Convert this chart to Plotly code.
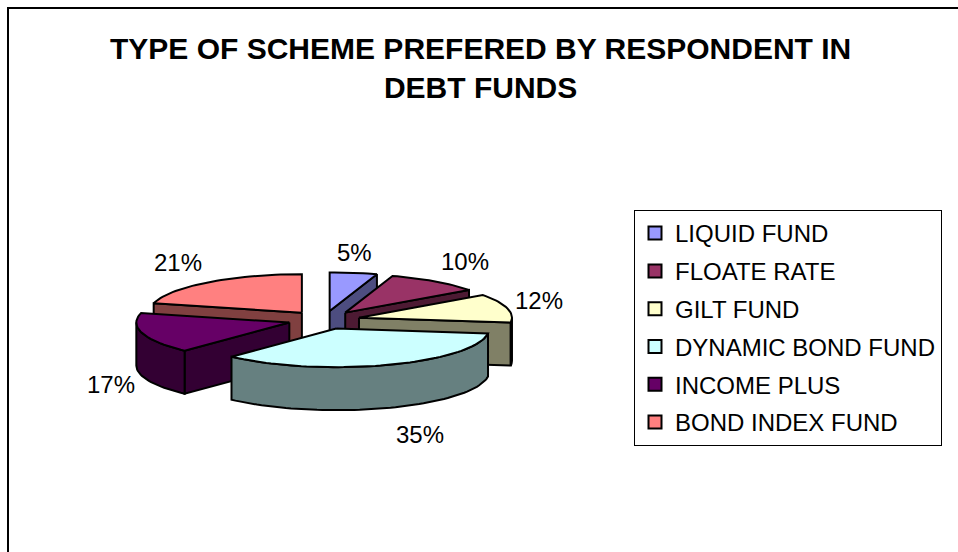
import math
import plotly.graph_objects as go

# Survey shares of debt-fund scheme types (percent of respondents)
schemes = ["LIQUID FUND", "FLOATE RATE", "GILT FUND",
           "DYNAMIC BOND FUND", "INCOME PLUS", "BOND INDEX FUND"]
shares = [5, 10, 12, 35, 17, 21]

top_colors = ["#9999FF", "#993366", "#FFFFCC", "#CCFFFF", "#660066", "#FF8080"]
side_colors = ["#4D4D80", "#4D1A33", "#808066", "#668080", "#330033", "#804040"]

TITLE = "TYPE OF SCHEME PREFERED BY RESPONDENT IN<br>DEBT FUNDS"
FONT = "Arial, 'Liberation Sans', sans-serif"

W, H = 958, 552
# projected pie geometry (pixels)
CX, CY = 324.0, 320.0
RX, RY = 153.0, 38.6
DEPTH = 43.0
EXPLODE = 0.236
LABEL_GX = 6.0
LABEL_GY = {"bottom": 5.0, "middle": 30.0, "top": 12.0}


def proj(cx, cy, theta, z=0.0, r=1.0):
    """Project a point at angle theta (deg, clockwise from 12 o'clock)."""
    t = math.radians(theta)
    return cx + RX * r * math.sin(t), cy - RY * r * math.cos(t) + z


def arc(cx, cy, a0, a1, z=0.0, n=None):
    n = n or max(2, int(abs(a1 - a0) / 2) + 2)
    return [proj(cx, cy, a0 + (a1 - a0) * i / (n - 1), z) for i in range(n)]


total = sum(shares)
slices = []
start = 0.0
for i, v in enumerate(shares):
    span = 360.0 * v / total
    a0, a1 = start, start + span
    mid = (a0 + a1) / 2
    m = math.radians(mid)
    cx = CX + EXPLODE * RX * math.sin(m)
    cy = CY - EXPLODE * RY * math.cos(m)
    slices.append(dict(i=i, a0=a0, a1=a1, mid=mid, cx=cx, cy=cy))
    start = a1

fig = go.Figure()


def poly(pts, fill):
    xs = [p[0] for p in pts] + [pts[0][0]]
    ys = [p[1] for p in pts] + [pts[0][1]]
    fig.add_trace(go.Scatter(
        x=xs, y=ys, mode="lines", fill="toself", fillcolor=fill,
        line=dict(color="black", width=2), hoverinfo="skip",
        showlegend=False))


def wall(s, theta, fill):
    apex_t = (s["cx"], s["cy"])
    rim_t = proj(s["cx"], s["cy"], theta)
    poly([apex_t, rim_t, (rim_t[0], rim_t[1] + DEPTH),
          (apex_t[0], apex_t[1] + DEPTH)], fill)


# paint slices from back to front
for s in sorted(slices, key=lambda d: -math.cos(math.radians(d["mid"]))):
    i = s["i"]
    side = side_colors[i]
    # radial cut faces that face the viewer
    if math.sin(math.radians(s["a0"])) < -1e-6:
        wall(s, s["a0"], side)
    if math.sin(math.radians(s["a1"])) > 1e-6:
        wall(s, s["a1"], side)
    # outer curved wall on the front half
    lo, hi = max(s["a0"], 90.0), min(s["a1"], 270.0)
    if hi > lo:
        top_arc = arc(s["cx"], s["cy"], lo, hi)
        bot_arc = arc(s["cx"], s["cy"], hi, lo, z=DEPTH)
        poly(top_arc + bot_arc, side)
    # top face
    poly([(s["cx"], s["cy"])] + arc(s["cx"], s["cy"], s["a0"], s["a1"]),
         top_colors[i])

# percentage labels outside each slice
for s in slices:
    m = math.radians(s["mid"])
    sn, cs = math.sin(m), math.cos(m)
    px, py = proj(s["cx"], s["cy"], s["mid"], z=DEPTH if cs < 0 else 0.0)
    xa = "left" if sn > 0.25 else ("right" if sn < -0.25 else "center")
    ya = "bottom" if cs > 0.5 else ("top" if cs < -0.5 else "middle")
    gx = LABEL_GX if ya != "top" else 3 * LABEL_GX
    lx, ly = px + gx * sn, py - LABEL_GY[ya] * cs
    pct = round(100.0 * shares[s["i"]] / total)
    fig.add_annotation(x=lx, y=ly, text=f"{pct}%", showarrow=False,
                       xanchor=xa, yanchor=ya,
                       font=dict(family=FONT, size=24, color="black"))

# legend entries
for name, col in zip(schemes, top_colors):
    fig.add_trace(go.Scatter(
        x=[None], y=[None], mode="markers", name=name, legendgroup=name,
        marker=dict(symbol="square", size=13, color=col,
                    line=dict(color="black", width=2))))

fig.add_annotation(x=480, y=30, text=f"<b>{TITLE}</b>", showarrow=False,
                   xanchor="center", yanchor="top",
                   font=dict(family=FONT, size=30, color="black"))

# chart frame
fig.add_shape(type="rect", x0=8, y0=8, x1=W + 40, y1=H + 40,
              line=dict(color="black", width=2), layer="above")

fig.update_layout(
    width=W, height=H, autosize=False,
    margin=dict(l=0, r=0, t=0, b=0),
    paper_bgcolor="white", plot_bgcolor="white",
    xaxis=dict(range=[0, W], visible=False, fixedrange=True),
    yaxis=dict(range=[H, 0], visible=False, fixedrange=True),
    legend=dict(x=634 / W, y=1 - 210 / H, xanchor="left", yanchor="top",
                bordercolor="black", borderwidth=1, bgcolor="white",
                font=dict(family=FONT, size=24, color="black"),
                tracegroupgap=3.6, itemsizing="trace"),
)

fig.write_html("out.html")
